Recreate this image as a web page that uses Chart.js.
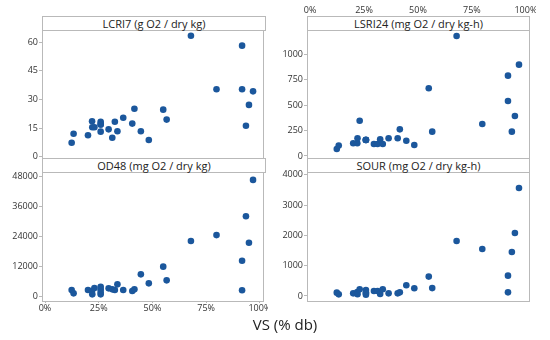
<!DOCTYPE html>
<html>
<head>
<meta charset="utf-8">
<script src="https://cdn.jsdelivr.net/npm/chart.js@4"></script>
<style>
  body { margin: 0; background: #fff; }
  #wrap { position: relative; width: 550px; height: 340px; font-family: "Open Sans", sans-serif; }
  .cv { position: absolute; }
  .strip {
    position: absolute; box-sizing: border-box; height: 15px;
    border: 1px solid #b9b9b9; background: #fff; color: #222;
    font-size: 11px; line-height: 13px; text-align: center; white-space: nowrap;
  }
  #xtitle { position: absolute; left: 0; width: 570px; top: 314px; text-align: center; font-size: 15px; color: #222; }
</style>
</head>
<body>
<div id="wrap">
  <div class="cv" style="left:0;top:0;width:268px;height:162px"><canvas id="c1"></canvas></div>
  <div class="cv" style="left:268px;top:0;width:268px;height:162px"><canvas id="c2"></canvas></div>
  <div class="cv" style="left:0;top:160px;width:268px;height:175px"><canvas id="c3"></canvas></div>
  <div class="cv" style="left:268px;top:160px;width:268px;height:175px"><canvas id="c4"></canvas></div>
  <div class="strip" style="left:42px;top:16px;width:224px">LCRI7 (g O2 / dry kg)</div>
  <div class="strip" style="left:307px;top:16px;width:223px">LSRI24 (mg O2 / dry kg-h)</div>
  <div class="strip" style="left:42px;top:158px;width:224px">OD48 (mg O2 / dry kg)</div>
  <div class="strip" style="left:307px;top:158px;width:223px">SOUR (mg O2 / dry kg-h)</div>
  <div id="xtitle">VS (% db)</div>
</div>
<script>
// VS (% db) of each sample, shared by all four panels
const vs = [12.4, 13.3, 20.0, 21.9, 22.0, 23.0, 25.9, 25.9, 25.9, 25.9, 29.6, 31.3, 32.5, 33.7,
  36.4, 40.6, 41.6, 44.6, 48.3, 55.0, 56.6, 67.9, 79.8, 91.7, 91.7, 93.5, 94.9, 96.8];

const lcri7 = [7.3, 12.0, 11.2, 18.5, 15.4, 15.4, 18.3, 16.9, 13.1, 16.9, 14.3, 9.9, 18.3, 13.3,
  20.4, 17.3, 25.1, 13.3, 8.7, 24.6, 19.4, 63.3, 35.3, 58.1, 35.3, 16.2, 27.1, 34.2];

const lsri24 = [69, 102, 125, 125, 174, 347, 160, 157, 157, 157, 118, 118, 164, 118,
  174, 174, 262, 150, 108, 666, 239, 1180, 315, 790, 541, 239, 393, 898];

const od48 = [2410, 1070, 2410, 2140, 670, 3220, 3750, 2680, 1610, 670, 3080, 2680, 2410, 4690,
  2410, 2010, 2680, 8710, 5090, 11800, 6300, 22100, 24500, 14200, 2300, 32100, 21400, 46700];

const sour = [110, 55, 88, 130, 60, 220, 198, 44, 120, 80, 165, 165, 66, 220,
  88, 88, 121, 352, 253, 640, 260, 1813, 1550, 670, 121, 1450, 2077, 3560];

const xTicks = [0, 25, 50, 75, 100];
const lcri7Ticks = [0, 15, 30, 45, 60];
const lsri24Ticks = [0, 250, 500, 750, 1000];
const od48Ticks = [0, 12000, 24000, 36000, 48000];
const sourTicks = [0, 1000, 2000, 3000, 4000];

const dotColor = '#1b579c';
const lineColor = '#b9b9b9';
const tickFont = { family: 'Open Sans', size: 9 };

// box round each plot area
const framePlugin = {
  id: 'frame',
  afterDraw(chart) {
    const a = chart.chartArea;
    const ctx = chart.ctx;
    ctx.save();
    ctx.strokeStyle = lineColor;
    ctx.lineWidth = 1;
    ctx.strokeRect(a.left + 0.5, a.top + 0.5, a.right - a.left - 1, a.bottom - a.top);
    ctx.restore();
  }
};

function makePanel(id, values, yTicks, yMin, yMax, opts) {
  const toPoints = vs.map((v, i) => ({ x: v, y: values[i] }));
  const ctx = document.getElementById(id).getContext('2d');
  return new Chart(ctx, {
    type: 'scatter',
    data: {
      datasets: [{
        data: toPoints,
        backgroundColor: dotColor,
        borderWidth: 0,
        pointRadius: 3.3
      }]
    },
    options: {
      responsive: true,
      maintainAspectRatio: false,
      animation: false,
      layout: { padding: opts.padding },
      plugins: { legend: { display: false }, tooltip: { enabled: false } },
      scales: {
        x: {
          type: 'linear',
          display: opts.xShow,
          position: opts.xPos,
          min: -1.4,
          max: 101.9,
          afterBuildTicks: (s) => { s.ticks = xTicks.map(v => ({ value: v })); },
          afterFit: (s) => { s.height = opts.xHeight; s.paddingLeft = 0; s.paddingRight = 0; },
          border: { display: false },
          grid: { drawOnChartArea: false, drawTicks: opts.xPos === 'bottom', tickLength: 2, color: lineColor },
          ticks: { font: tickFont, color: '#333', padding: opts.xPad, maxRotation: 0, callback: (v) => v + '%' }
        },
        y: {
          min: yMin,
          max: yMax,
          afterBuildTicks: (s) => { s.ticks = yTicks.map(v => ({ value: v })); },
          afterFit: (s) => { s.width = opts.yWidth; s.paddingTop = 0; s.paddingBottom = 0; },
          border: { display: false },
          grid: { drawOnChartArea: false, tickLength: 3, color: lineColor },
          ticks: { font: tickFont, color: '#333', padding: 1, callback: (v) => String(v) }
        }
      }
    },
    plugins: [framePlugin]
  });
}

makePanel('c1', lcri7, lcri7Ticks, -0.7, 66.3,
  { padding: { top: 30, right: 2, bottom: 4, left: 0 }, xShow: false, xPos: 'bottom', xHeight: 0, xPad: 0, yWidth: 42 });
makePanel('c2', lsri24, lsri24Ticks, -20, 1239,
  { padding: { top: 0, right: 6, bottom: 4, left: 0 }, xShow: true, xPos: 'top', xHeight: 30, xPad: 14.6, yWidth: 39 });
makePanel('c3', od48, od48Ticks, -2011, 49880,
  { padding: { top: 12, right: 2, bottom: 14, left: 0 }, xShow: true, xPos: 'bottom', xHeight: 20, xPad: 0, yWidth: 42 });
makePanel('c4', sour, sourTicks, -165, 4088,
  { padding: { top: 12, right: 6, bottom: 34, left: 0 }, xShow: false, xPos: 'bottom', xHeight: 0, xPad: 0, yWidth: 39 });
</script>
</body>
</html>
